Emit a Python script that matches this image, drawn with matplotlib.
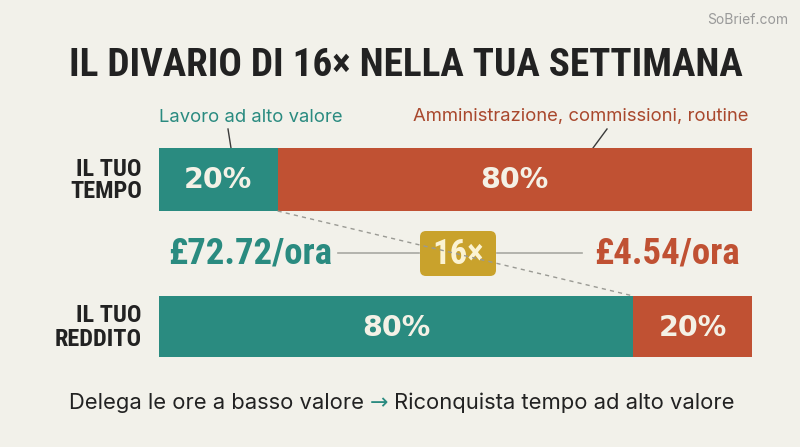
import matplotlib
matplotlib.use("Agg")
import matplotlib.pyplot as plt
from matplotlib import font_manager
from matplotlib.patches import FancyBboxPatch

# --- data ---
rows = ["IL TUO\nTEMPO", "IL TUO\nREDDITO"]
high_value = [20, 80]      # teal share
low_value = [80, 20]       # red share
seg_labels = ["Lavoro ad alto valore", "Amministrazione, commissioni, routine"]
rate_high = "£72.72/ora"
rate_low = "£4.54/ora"
ratio_label = "16×"
title = "IL DIVARIO DI 16× NELLA TUA SETTIMANA"
footer_left = "Delega le ore a basso valore "
footer_arrow = "→"
footer_right = " Riconquista tempo ad alto valore"

TEAL = "#2a8b80"
RED = "#c05133"
GOLD = "#c9a22c"
BG = "#f2f1ea"
DARK = "#222222"

available = {f.name for f in font_manager.fontManager.ttflist}


def pick(*names):
    for n in names:
        if n in available:
            return n
    return "DejaVu Sans"


NARROW = pick("Roboto Condensed", "Liberation Sans Narrow", "DejaVu Sans")
BODY = pick("Inter", "Liberation Sans", "DejaVu Sans")

fig = plt.figure(figsize=(8, 4.47), dpi=100, facecolor=BG)

# overlay axes in pixel coordinates for text and connectors
ov = fig.add_axes([0, 0, 1, 1])
ov.set_xlim(0, 800)
ov.set_ylim(447, 0)
ov.axis("off")

# bar axes: x in percent, spans the bar area
W, H = 800, 447
x0, x1 = 159, 752
y_top, y_bot = 148, 357
bx = fig.add_axes([x0 / W, 1 - y_bot / H, (x1 - x0) / W, (y_bot - y_top) / H])
bx.set_xlim(0, 100)
bx.set_ylim(357, 148)
bx.axis("off")
bx.patch.set_alpha(0)

centers = [179.5, 326.5]
heights = [63, 61]
bx.barh(centers, high_value, height=heights, color=TEAL, linewidth=0)
bx.barh(centers, low_value, left=high_value, height=heights, color=RED, linewidth=0)

for c, hv, lv in zip(centers, high_value, low_value):
    bx.text(hv / 2, c + 1, f"{hv}%", ha="center", va="center", color="#f4f1e6",
            fontsize=20.5, fontweight="bold", family="DejaVu Sans")
    bx.text(hv + lv / 2, c + 1, f"{lv}%", ha="center", va="center", color="#f4f1e6",
            fontsize=20.5, fontweight="bold", family="DejaVu Sans")

# dashed connector between the two splits
bx.plot([high_value[0], high_value[1]], [centers[0] + heights[0] / 2, centers[1] - heights[1] / 2],
        ls=(0, (3, 3)), color="#9a9a94", lw=1, clip_on=False)

# row labels
for c, lab in zip(centers, rows):
    ov.text(142, c + 1, lab, ha="right", va="center", fontsize=17.5, fontweight="bold",
            family=NARROW, color=DARK, linespacing=1.0)

# title and watermark
ov.text(406, 66, title, ha="center", va="center", fontsize=28.2, fontweight="black",
        family=NARROW, color=DARK)
ov.text(788, 20, "SoBrief.com", ha="right", va="center", fontsize=10,
        family=BODY, color="#9a9a9a")

# segment annotations
ov.text(251, 117, seg_labels[0], ha="center", va="center", fontsize=13.3,
        family=BODY, color=TEAL)
ov.plot([228, 231], [129, 148], color="#3a3a3a", lw=1)
ov.text(581, 117, seg_labels[1], ha="center", va="center", fontsize=13.3,
        family=BODY, color="#a9482d")
ov.plot([607, 593], [129, 148], color="#3a3a3a", lw=1)

# rate comparison
ov.text(250, 254, rate_high, ha="center", va="center", fontsize=26.5, fontweight="bold",
        family=NARROW, color=TEAL)
ov.text(667, 254, rate_low, ha="center", va="center", fontsize=26.5, fontweight="bold",
        family=NARROW, color=RED)
ov.plot([338, 419], [253, 253], color="#a8a8a2", lw=1.2)
ov.plot([497, 582], [253, 253], color="#a8a8a2", lw=1.2)
box = FancyBboxPatch((420, 231), 76, 45, boxstyle="round,pad=0,rounding_size=6",
                     facecolor=GOLD, edgecolor="none")
ov.add_patch(box)
ov.text(458, 254, ratio_label, ha="center", va="center", fontsize=25, fontweight="bold",
        family=NARROW, color="#fbf3d2")

# footer with coloured arrow
t1 = ov.text(69, 403, footer_left, ha="left", va="center", fontsize=15.8,
             family=BODY, color=DARK)
fig.canvas.draw()
bb = t1.get_window_extent()
t2 = fig.text(bb.x1 / W, 1 - 403 / H, footer_arrow, ha="left", va="center", fontsize=15.8,
              family="DejaVu Sans", color=TEAL)
fig.canvas.draw()
bb2 = t2.get_window_extent()
fig.text(bb2.x1 / W, 1 - 403 / H, footer_right, ha="left", va="center", fontsize=15.8,
         family=BODY, color=DARK)

fig.savefig("out.png", dpi=100, facecolor=BG)
